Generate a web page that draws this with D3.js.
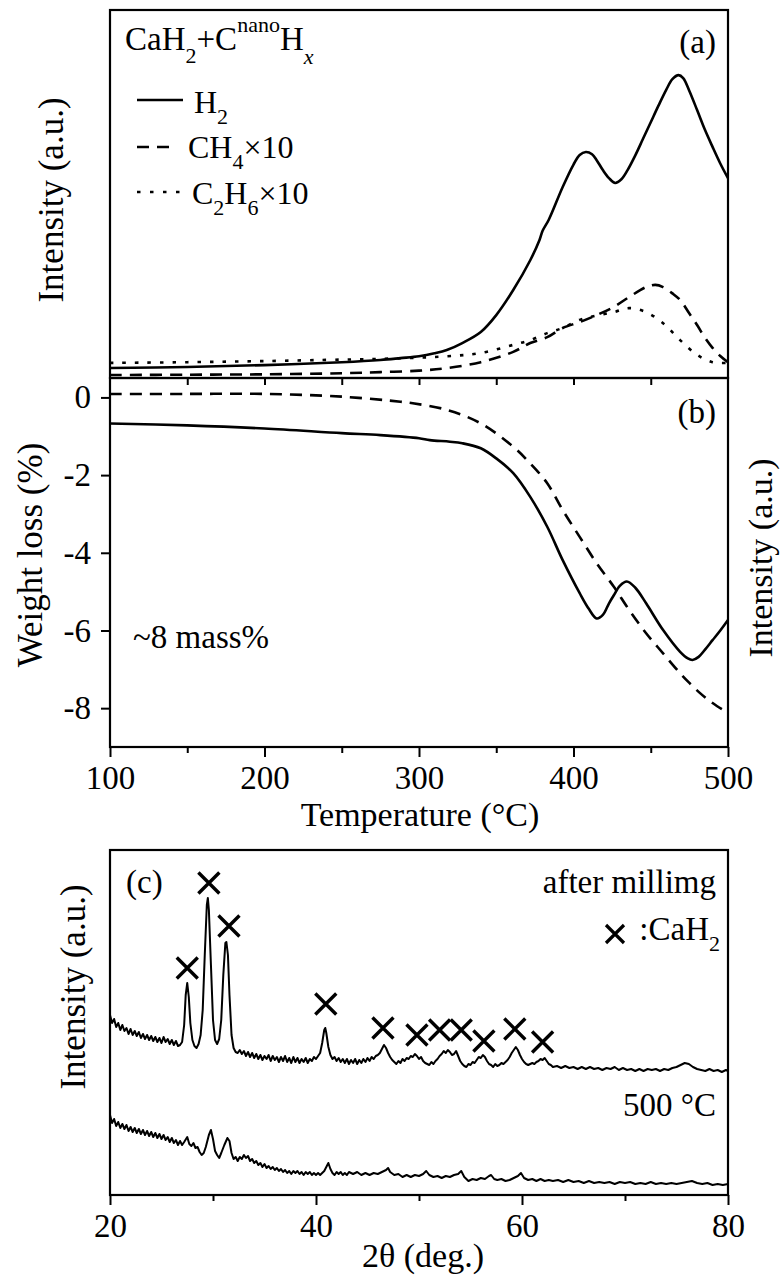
<!DOCTYPE html>
<html><head><meta charset="utf-8">
<script src="https://cdn.jsdelivr.net/npm/d3@7"></script>
</head><body style="margin:0;background:#fff">
<svg id="c" width="780" height="1276"></svg>
<script>
// ---------- DATA ----------
// (a) mass spectrometry, [temperature °C, intensity a.u.]
const h2Signal = [[100,2.7],[150,3.0],[200,3.5],[250,4.3],[275,4.9],[288,5.4],[300,5.9],[310,6.7],[318,7.6],[328,9.5],[340,12.5],[350,17.1],[361,23.9],[372,32],[378,37.5],[380,40],[384,43],[393,51.9],[400,58],[404,60.6],[408,61.4],[412,60.8],[415,59.2],[419,56.5],[423,54.3],[427,53],[431,54],[435,56.5],[440,60.5],[445,65],[450,69.5],[455,74],[460,78.3],[464,81.2],[468,82.3],[471,81.5],[475,78],[480,72.8],[485,67.5],[490,62.8],[495,58.3],[500,54.3]];
const ch4Signal = [[100,0.8],[150,0.9],[200,1.0],[250,1.3],[275,1.6],[300,2.0],[318,2.7],[340,4.3],[361,7.1],[372,9.5],[383,11.1],[393,13.6],[404,15.2],[415,17.1],[426,19.3],[436,22.0],[447,24.7],[453,25.3],[458,24.7],[464,23],[469,21.2],[475,17.5],[480,14.4],[485,11],[490,8.2],[495,6],[500,4.3]];
const c2h6Signal = [[100,4.1],[150,4.3],[200,4.6],[250,5.0],[275,5.2],[318,5.9],[340,6.8],[361,9.0],[372,10.3],[383,12.2],[393,13.6],[404,15.8],[415,17.0],[426,17.9],[436,19.0],[447,17.9],[458,14.9],[469,10.3],[480,6.3],[490,4.3],[500,4.1]];
// (b) thermogravimetry, [temperature °C, weight loss %]
const tgSolid = [[100,-0.67],[150,-0.72],[200,-0.80],[250,-0.92],[275,-0.97],[300,-1.05],[307,-1.10],[320,-1.14],[328,-1.18],[340,-1.31],[350,-1.57],[361,-1.95],[372,-2.56],[383,-3.33],[393,-4.19],[404,-5.04],[410,-5.45],[415,-5.69],[419,-5.6],[423,-5.3],[426,-5.1],[430,-4.85],[434.5,-4.74],[440,-4.9],[447,-5.30],[458,-5.99],[469,-6.55],[474,-6.72],[477,-6.76],[481,-6.68],[485,-6.5],[490,-6.25],[495,-6.0],[500,-5.73]];
const tgDashed = [[100,0.09],[150,0.09],[200,0.09],[250,0.02],[288,-0.11],[296,-0.15],[318,-0.32],[340,-0.67],[361,-1.27],[372,-1.70],[383,-2.21],[393,-2.90],[404,-3.59],[415,-4.27],[426,-4.87],[436,-5.47],[447,-6.07],[458,-6.59],[469,-7.10],[475,-7.35],[481,-7.58],[487,-7.78],[493,-7.95],[500,-8.12]];
// (c) XRD, [2theta deg, intensity a.u.]
const xrdMilled = [[20.0,180],[20.2,172],[20.4,176],[20.6,168],[20.8,172],[21.0,165],[21.2,170],[21.4,164],[21.6,167],[21.8,161],[22.0,166],[22.2,160],[22.4,164],[22.6,159],[22.8,163],[23.0,157],[23.2,161],[23.4,156],[23.6,160],[23.8,155],[24.0,159],[24.2,154],[24.4,158],[24.6,153],[24.8,157],[25.0,152],[25.2,158],[25.4,153],[25.6,156],[25.8,151],[26.0,155],[26.2,150],[26.4,154],[26.6,149],[26.8,150],[27.0,153],[27.2,170],[27.35,200],[27.5,212],[27.65,198],[27.8,172],[28.0,155],[28.2,149],[28.4,147],[28.6,151],[28.8,160],[29.0,185],[29.2,240],[29.4,290],[29.5,297],[29.6,285],[29.8,230],[30.0,175],[30.2,155],[30.4,151],[30.6,156],[30.8,175],[31.0,220],[31.2,252],[31.3,253],[31.45,240],[31.6,200],[31.8,160],[32.0,147],[32.2,143],[32.4,142],[32.6,145],[32.8,141],[33.0,144],[33.2,139],[33.4,143],[33.6,138],[33.8,142],[34.0,137],[34.2,141],[34.4,136],[34.6,140],[34.8,135],[35.0,139],[35.2,136],[35.4,140],[35.6,134],[35.8,139],[36.0,135],[36.2,138],[36.4,133],[36.6,138],[36.8,134],[37.0,139],[37.2,133],[37.4,137],[37.6,132],[37.8,138],[38.0,133],[38.2,137],[38.4,132],[38.6,136],[38.8,133],[39.0,137],[39.2,132],[39.4,136],[39.6,134],[39.8,138],[40.0,136],[40.2,139],[40.4,142],[40.6,152],[40.8,165],[40.9,167],[41.0,162],[41.2,148],[41.4,140],[41.6,136],[41.8,138],[42.0,134],[42.2,137],[42.4,133],[42.6,136],[42.8,132],[43.0,136],[43.2,131],[43.4,135],[43.6,132],[43.8,136],[44.0,131],[44.2,135],[44.4,132],[44.6,136],[44.8,133],[45.0,137],[45.2,134],[45.4,138],[45.6,136],[45.8,139],[46.0,140],[46.2,142],[46.4,146],[46.6,150],[46.8,147],[47.0,142],[47.2,138],[47.4,135],[47.6,133],[47.8,131],[48.0,134],[48.2,132],[48.4,136],[48.6,134],[48.8,137],[49.0,136],[49.2,139],[49.4,138],[49.6,141],[49.8,139],[50.0,136],[50.2,138],[50.4,134],[50.6,132],[50.8,131],[51.0,130],[51.2,133],[51.4,131],[51.6,134],[51.8,136],[52.0,139],[52.2,141],[52.4,144],[52.6,142],[52.8,145],[53.0,143],[53.2,140],[53.4,141],[53.6,144],[53.8,139],[54.0,134],[54.2,131],[54.4,129],[54.6,128],[54.8,131],[55.0,130],[55.2,133],[55.4,132],[55.6,135],[55.8,138],[56.0,137],[56.2,140],[56.4,138],[56.6,134],[56.8,131],[57.0,130],[57.2,128],[57.4,131],[57.6,129],[57.8,130],[58.0,132],[58.2,131],[58.6,135],[58.8,138],[59.0,142],[59.2,145],[59.4,148],[59.6,145],[59.8,140],[60.0,136],[60.2,133],[60.4,131],[60.6,130],[60.8,131],[61.0,132],[61.2,131],[61.4,133],[61.6,134],[61.8,136],[62.0,135],[62.2,137],[62.4,134],[62.6,131],[62.8,130],[63.0,128],[63.4,129],[63.8,127],[64.2,129],[64.6,127],[65.0,128],[65.4,126],[65.8,128],[66.2,126],[66.6,128],[67.0,126],[67.4,127],[67.8,125],[68.2,127],[68.6,126],[69.0,128],[69.4,125],[69.8,127],[70.2,125],[70.6,126],[71.0,124],[71.4,126],[71.8,124],[72.2,126],[72.6,125],[73.0,126],[73.4,124],[73.8,126],[74.2,125],[74.6,127],[75.0,128],[75.4,130],[75.8,132],[76.2,131],[76.6,128],[77.0,126],[77.4,125],[77.8,124],[78.2,126],[78.6,124],[79.0,125],[79.4,123],[79.8,125],[80.0,124]];
const xrd500C = [[20.0,80],[20.2,72],[20.4,76],[20.6,69],[20.8,73],[21.0,67],[21.2,71],[21.4,66],[21.6,70],[21.8,64],[22.0,68],[22.2,63],[22.4,67],[22.6,62],[22.8,66],[23.0,61],[23.2,65],[23.4,60],[23.6,64],[23.8,59],[24.0,63],[24.2,58],[24.4,62],[24.6,57],[24.8,61],[25.0,56],[25.2,60],[25.4,55],[25.6,58],[25.8,53],[26.0,57],[26.2,52],[26.4,55],[26.6,50],[26.8,54],[27.0,50],[27.2,53],[27.5,58],[27.7,51],[27.9,49],[28.1,52],[28.3,47],[28.5,48],[28.7,43],[28.9,40],[29.1,42],[29.3,48],[29.6,60],[29.8,65],[30.0,56],[30.2,44],[30.4,40],[30.6,37],[30.8,42],[31.1,50],[31.4,57],[31.6,54],[31.8,42],[32.0,36],[32.2,38],[32.4,34],[32.6,38],[32.8,36],[33.0,40],[33.2,37],[33.4,39],[33.6,34],[33.8,36],[34.0,32],[34.2,34],[34.4,30],[34.6,32],[34.8,28],[35.0,31],[35.2,27],[35.4,29],[35.6,26],[35.8,28],[36.0,25],[36.2,27],[36.4,24],[36.6,26],[36.8,23],[37.0,25],[37.2,22],[37.4,24],[37.6,21],[37.8,24],[38.0,22],[38.2,24],[38.4,21],[38.6,23],[38.8,20],[39.0,23],[39.2,21],[39.4,23],[39.6,20],[39.8,22],[40.0,20],[40.2,22],[40.4,20],[40.6,22],[40.8,24],[41.0,28],[41.2,32],[41.4,26],[41.6,22],[41.8,20],[42.0,23],[42.2,21],[42.4,23],[42.6,20],[42.8,22],[43.0,20],[43.2,23],[43.6,21],[44.0,23],[44.4,20],[44.8,22],[45.2,20],[45.6,22],[46.0,21],[46.4,23],[46.8,25],[47.0,27],[47.2,23],[47.6,20],[48.0,21],[48.4,18],[48.8,20],[49.2,18],[49.6,20],[50.0,19],[50.4,21],[50.7,24],[51.0,20],[51.4,18],[51.8,19],[52.2,17],[52.6,19],[53.0,18],[53.4,20],[53.8,21],[54.1,24],[54.4,18],[54.8,14],[55.2,16],[55.6,15],[56.0,17],[56.4,16],[56.8,19],[57.0,20],[57.3,16],[57.6,15],[58.0,16],[58.4,14],[58.8,15],[59.2,17],[59.6,19],[59.9,22],[60.2,17],[60.6,15],[61.0,16],[61.4,14],[61.8,16],[62.2,14],[62.6,15],[63.0,14],[63.5,15],[64.0,13],[64.5,15],[65.0,13],[65.5,14],[66.0,12],[66.5,14],[67.0,12],[67.5,13],[68.0,12],[68.5,13],[69.0,11],[69.5,13],[70.0,12],[70.5,13],[71.0,11],[71.5,12],[72.0,11],[72.5,13],[73.0,11],[73.5,12],[74.0,11],[74.5,12],[75.0,11],[75.5,12],[76.0,13],[76.5,14],[77.0,12],[77.5,11],[78.0,12],[78.5,10],[79.0,11],[79.5,10],[80.0,11]];
// CaH2 reflection markers [2theta, height a.u.]
const cah2Marks = [[27.5,227],[29.6,312],[31.55,269],[40.95,191],[46.5,167],[49.8,160],[52.0,165],[54.1,165],[56.3,154],[59.3,166],[62.0,153]];
// tick labels
const tempMajor = [100,200,300,400,500];
const tempMinor = [150,250,350,450];
const tempInner = [150,200,250,300,350,400,450];
const weightTicks = [0,-2,-4,-6,-8];
const thetaMajor = [20,40,60,80];
const thetaMinor = [30,50,70];

// ---------- SCALES ----------
const L = 110, R = 728;
const xT = d3.scaleLinear().domain([100,500]).range([L,R]);
const yA = d3.scaleLinear().domain([0,100]).range([378,10]);
const yB = d3.scaleLinear().domain([-9,0.5]).range([747,378]);
const x2 = d3.scaleLinear().domain([20,80]).range([L,R]);
const yC = d3.scaleLinear().domain([0,345]).range([1195,850]);

const FONT = "Liberation Serif";
const svg = d3.select("#c");
// every text element gets the serif face directly
const T = (sel)=>sel.attr("font-family",FONT).style("font-family",FONT).attr("fill","#000");

const smooth = d3.curveCatmullRom.alpha(0.5);
const lineA = d3.line().x(d=>xT(d[0])).y(d=>yA(d[1])).curve(smooth);
const lineB = d3.line().x(d=>xT(d[0])).y(d=>yB(d[1])).curve(smooth);
const lineC = d3.line().x(d=>x2(d[0])).y(d=>yC(d[1]));

// ---------- (a) ----------
svg.append("path").attr("d", lineA(c2h6Signal)).attr("fill","none").attr("stroke","#000").attr("stroke-width",2.6).attr("stroke-dasharray","3.5,9");
svg.append("path").attr("d", lineA(ch4Signal)).attr("fill","none").attr("stroke","#000").attr("stroke-width",2.6).attr("stroke-dasharray","12,8");
svg.append("path").attr("d", lineA(h2Signal)).attr("fill","none").attr("stroke","#000").attr("stroke-width",2.6);

// ---------- (b) ----------
svg.append("path").attr("d", lineB(tgDashed)).attr("fill","none").attr("stroke","#000").attr("stroke-width",2.6).attr("stroke-dasharray","12,8");
svg.append("path").attr("d", lineB(tgSolid)).attr("fill","none").attr("stroke","#000").attr("stroke-width",2.6);

// ---------- (c) ----------
svg.append("path").attr("d", lineC(xrdMilled)).attr("fill","none").attr("stroke","#000").attr("stroke-width",2).attr("stroke-linejoin","round");
svg.append("path").attr("d", lineC(xrd500C)).attr("fill","none").attr("stroke","#000").attr("stroke-width",2).attr("stroke-linejoin","round");
const cross = (cx,cy,s)=>`M${cx-s},${cy-s}L${cx+s},${cy+s}M${cx-s},${cy+s}L${cx+s},${cy-s}`;
svg.append("g").selectAll("path").data(cah2Marks).join("path")
  .attr("d", d=>cross(x2(d[0]), yC(d[1]), 10.5))
  .attr("stroke","#000").attr("stroke-width",3.4).attr("fill","none");

// ---------- frames ----------
const frame = (y0,y1)=>svg.append("rect").attr("x",L).attr("y",y0).attr("width",R-L).attr("height",y1-y0)
  .attr("fill","none").attr("stroke","#000").attr("stroke-width",2.2);
frame(10,378); frame(378,747); frame(850,1195);

// ---------- axes ----------
function styleAxis(g, fs){
  g.attr("font-family",FONT).attr("font-size",fs);
  g.select(".domain").remove();
  g.selectAll(".tick line").attr("stroke","#000").attr("stroke-width",2);
  T(g.selectAll(".tick text")).attr("font-size",fs).style("font-size",fs+"px");
}
svg.append("g").attr("transform","translate(0,378)")
  .call(d3.axisBottom(xT).tickValues(tempInner).tickSize(7).tickFormat(""))
  .call(g=>styleAxis(g,33));
svg.append("g").attr("transform","translate(0,747)")
  .call(d3.axisBottom(xT).tickValues(tempMajor).tickSizeInner(10).tickSizeOuter(0).tickPadding(9).tickFormat(d=>String(d)))
  .call(g=>styleAxis(g,33));
svg.append("g").attr("transform","translate(0,747)")
  .call(d3.axisBottom(xT).tickValues(tempMinor).tickSize(6).tickFormat(""))
  .call(g=>styleAxis(g,33));
svg.append("g").attr("transform",`translate(${L},0)`)
  .call(d3.axisLeft(yB).tickValues(weightTicks).tickSizeInner(9).tickSizeOuter(0).tickPadding(10).tickFormat(d=>String(d)))
  .call(g=>styleAxis(g,33));
svg.append("g").attr("transform","translate(0,1195)")
  .call(d3.axisBottom(x2).tickValues(thetaMajor).tickSizeInner(10).tickSizeOuter(0).tickPadding(9).tickFormat(d=>String(d)))
  .call(g=>styleAxis(g,33));
svg.append("g").attr("transform","translate(0,1195)")
  .call(d3.axisBottom(x2).tickValues(thetaMinor).tickSize(6).tickFormat(""))
  .call(g=>styleAxis(g,33));

// ---------- titles ----------
const rotLabel = (x,y,t,fs)=>T(svg.append("text")).attr("transform",`translate(${x},${y}) rotate(-90)`)
  .attr("text-anchor","middle").attr("font-size",fs||35).text(t);
rotLabel(63,200,"Intensity (a.u.)");
rotLabel(42,555,"Weight loss (%)");
rotLabel(772,558,"Intensity (a.u.)",34);
rotLabel(85,987,"Intensity (a.u.)");
T(svg.append("text")).attr("x",420).attr("y",826).attr("text-anchor","middle").attr("font-size",34).text("Temperature (\u00B0C)");
T(svg.append("text")).attr("x",423).attr("y",1267).attr("text-anchor","middle").attr("font-size",34).text("2\u03B8 (deg.)");

// ---------- annotations ----------
const ann = (x,y,t,anchor)=>T(svg.append("text")).attr("x",x).attr("y",y).attr("text-anchor",anchor||"start").attr("font-size",33).text(t);
ann(716,53,"(a)","end");
ann(716,423,"(b)","end");
ann(126,893,"(c)");
ann(133,648,"~8 mass%");
ann(716,893,"after millimg","end");
ann(716,1116,"500 \u00B0C","end");

// header CaH2+C^nano H_x
{
  const t = T(svg.append("text")).attr("x",125).attr("y",50).attr("font-size",33);
  t.append("tspan").text("CaH");
  t.append("tspan").attr("dy",13).attr("font-size",22).text("2");
  t.append("tspan").attr("dy",-13).text("+C");
  t.append("tspan").attr("dy",-18).attr("font-size",22).text("nano");
  t.append("tspan").attr("dy",18).text("H");
  t.append("tspan").attr("dy",14).attr("font-size",22).attr("font-style","italic").text("x");
}
// legend (a)
svg.append("line").attr("x1",137).attr("x2",183).attr("y1",100).attr("y2",100).attr("stroke","#000").attr("stroke-width",2.6);
svg.append("line").attr("x1",137).attr("x2",174).attr("y1",147).attr("y2",147).attr("stroke","#000").attr("stroke-width",2.6).attr("stroke-dasharray","12,8");
svg.append("line").attr("x1",137).attr("x2",181).attr("y1",192).attr("y2",192).attr("stroke","#000").attr("stroke-width",2.6).attr("stroke-dasharray","3.5,9.5");
{
  const t1 = T(svg.append("text")).attr("x",194).attr("y",113).attr("font-size",32);
  t1.append("tspan").text("H");
  t1.append("tspan").attr("dy",11).attr("font-size",22).text("2");
  const t2 = T(svg.append("text")).attr("x",188).attr("y",158).attr("font-size",32);
  t2.append("tspan").text("CH");
  t2.append("tspan").attr("dy",11).attr("font-size",22).text("4");
  t2.append("tspan").attr("dy",-11).text("\u00D710");
  const t3 = T(svg.append("text")).attr("x",192).attr("y",204).attr("font-size",32);
  t3.append("tspan").text("C");
  t3.append("tspan").attr("dy",11).attr("font-size",22).text("2");
  t3.append("tspan").attr("dy",-11).text("H");
  t3.append("tspan").attr("dy",11).attr("font-size",22).text("6");
  t3.append("tspan").attr("dy",-11).text("\u00D710");
}
// legend (c)
svg.append("path").attr("d",cross(615,934,9)).attr("stroke","#000").attr("stroke-width",3.2).attr("fill","none");
{
  const t = T(svg.append("text")).attr("x",720).attr("y",940).attr("text-anchor","end").attr("font-size",33);
  t.append("tspan").text(":CaH");
  t.append("tspan").attr("dy",11).attr("font-size",22).text("2");
}
</script>
</body></html>
